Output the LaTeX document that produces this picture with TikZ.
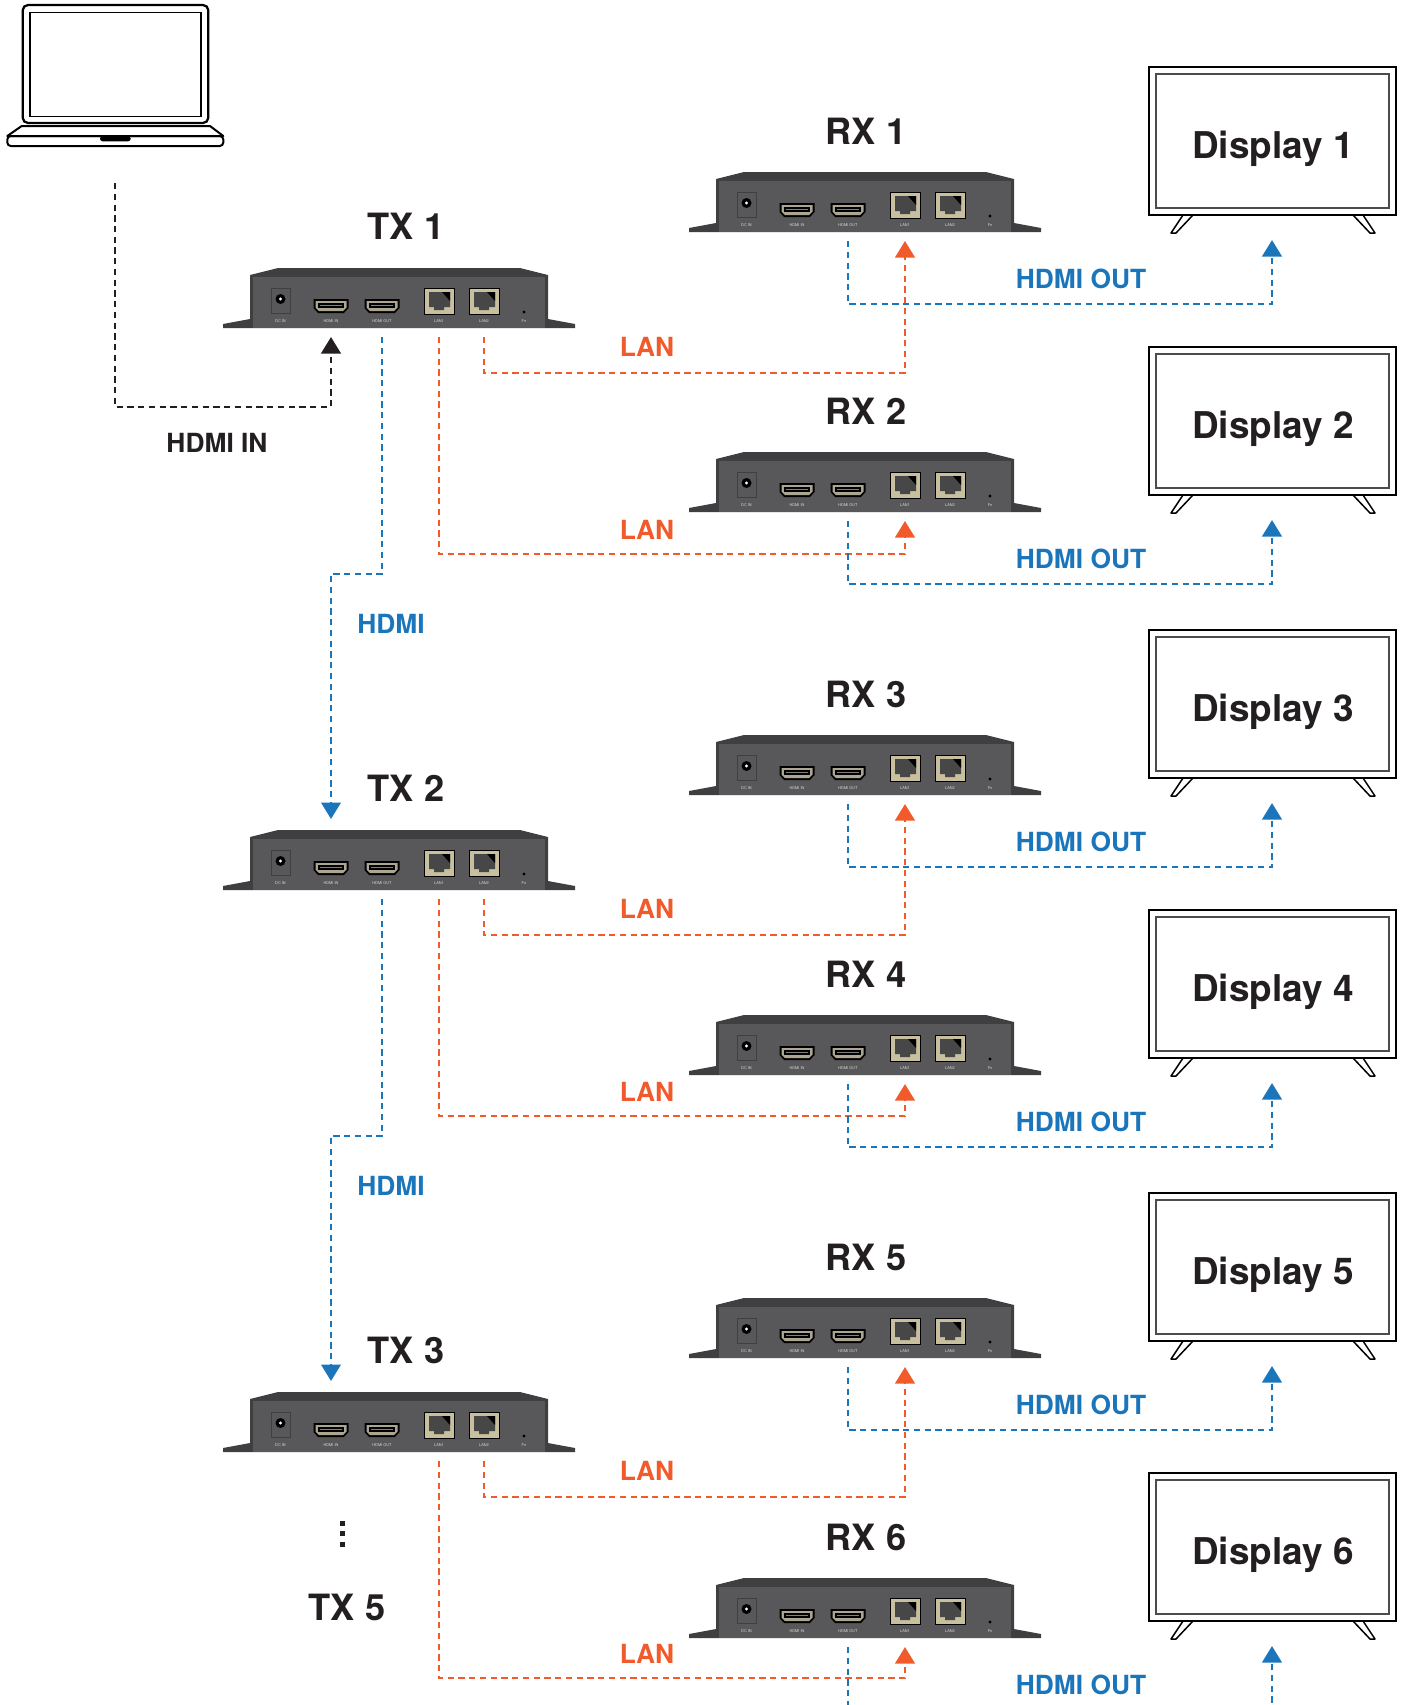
\documentclass[tikz,border=0pt]{standalone}
\usepackage{fontspec}
\setmainfont{TeX Gyre Heros}
\usetikzlibrary{arrows.meta}

\definecolor{ink}{HTML}{231F20}
\definecolor{hdmiblue}{HTML}{1B75BB}
\definecolor{lanorange}{HTML}{F15A2B}
\definecolor{casetop}{HTML}{3F3F41}
\definecolor{caseface}{HTML}{58585A}
\definecolor{rjbeige}{HTML}{C8BF9F}

\tikzset{
  cable/.style={line width=0.05cm,dash pattern=on 0.125cm off 0.09cm},
  hdmi/.style={cable,hdmiblue,-{Triangle[width=0.39cm,length=0.33cm]}},
  lan/.style={cable,lanorange,-{Triangle[width=0.39cm,length=0.33cm]}},
  src/.style={cable,ink,-{Triangle[width=0.39cm,length=0.33cm]}},
  boxname/.style={anchor=base,text=ink,font=\fontsize{20.6}{24}\selectfont\bfseries},
  screenname/.style={anchor=base,text=ink,font=\fontsize{21}{24}\selectfont\bfseries},
  wirename/.style={anchor=base,font=\fontsize{15}{18}\selectfont\bfseries},
  portname/.style={anchor=base,text=black!15,inner sep=0pt,font=\fontsize{2.2}{2.4}\selectfont},
  % extender box seen from the port side, origin = top left of housing
  extender/.pic={
    \fill[casetop] (0,7) -- (28,0) -- (270,0) -- (298,7) -- (298,60) -- (0,60) -- cycle;
    \fill[caseface] (3,9) rectangle (295,60);
    \fill[casetop] (-27,56) -- (0,51) -- (0,60) -- (-27,60) -- cycle
                   (298,51) -- (325,56) -- (325,60) -- (298,60) -- cycle;
    % power jack
    \draw[casetop,line width=0.02cm] (21,20) rectangle (40,45);
    \fill[black] (30.5,31) circle (5);
    \fill[white] (30.5,31) circle (1.6);
    % hdmi sockets
    \foreach \px in {81,132} {
      \fill[black] (\px-17.5,31) -- (\px+17.5,31) -- (\px+17.5,40) -- (\px+13,45) -- (\px-13,45) -- (\px-17.5,40) -- cycle;
      \fill[rjbeige!60!gray] (\px-15.5,33) -- (\px+15.5,33) -- (\px+15.5,39.5) -- (\px+12,43) -- (\px-12,43) -- (\px-15.5,39.5) -- cycle;
      \fill[black] (\px-13,35) rectangle (\px+13,40);
      \fill[gray] (\px-11,37) rectangle (\px+11,38);
    }
    % rj45 sockets
    \foreach \px in {189,234} {
      \fill[rjbeige,draw=black,line width=0.02cm] (\px-15,20) rectangle (\px+15,46);
      \fill[black!72] (\px-10,24) -- (\px+11,24) -- (\px+11,39) -- (\px+5,39) -- (\px+5,42) -- (\px-5,42) -- (\px-5,39) -- (\px-10,39) -- cycle;
      \fill[black] (\px+3,24) -- (\px+11,24) -- (\px+11,33) -- cycle;
    }
    \fill[black] (274,44) circle (1.6);
    \node[portname] (-dcl) at (30.5,54) {DC IN};
    \node[portname] (-hinl) at (81,54) {HDMI IN};
    \node[portname] (-houtl) at (132,54) {HDMI OUT};
    \node[portname] (-lan1l) at (189,54) {LAN1};
    \node[portname] (-lan2l) at (234,54) {LAN2};
    \node[portname] (-fnl) at (274,54) {Fn};
    \coordinate (-top) at (81,-11);
    \coordinate (-hin) at (81,69);
    \coordinate (-hout) at (132,69);
    \coordinate (-lan1) at (189,69);
    \coordinate (-lan2) at (234,69);
  }
}

\begin{document}
\begin{tikzpicture}[x={(0.02cm,0cm)},y={(0cm,-0.02cm)}]
\useasboundingbox (0,0) rectangle (1407,1705);
\clip (0,0) rectangle (1407,1705);

% laptop
\draw[line width=0.045cm,rounded corners=3] (22.7,5) rectangle (208.3,123);
\draw[line width=0.03cm] (30,12.7) rectangle (201,116.7);
\draw[line width=0.04cm,line join=round] (7.3,136) -- (21.7,126) -- (210,126) -- (223.3,136) -- cycle;
\draw[line width=0.04cm,rounded corners=2] (7.3,136) rectangle (223.3,146);
\fill[black,rounded corners=1.5] (100,136) rectangle (130.7,141.3);
\coordinate (laptop-out) at (115,183);
\node[wirename,text=ink] (hdmiin) at (217,452) {HDMI IN};

% transmitters
\foreach \t/\ty in {1/268,2/830,3/1392} {
  \pic (tx\t) at (250,\ty) {extender};
  \node[boxname] (txname\t) at (406,\ty-29) {TX \t};
  \node[wirename,text=lanorange] (lanA\t) at (647,\ty+88) {LAN};
  \node[wirename,text=lanorange] (lanB\t) at (647,\ty+271) {LAN};
}
\foreach \t/\ty in {1/268,2/830}
  \node[wirename,text=hdmiblue] (link\t) at (391,\ty+365) {HDMI};

% receivers and screens
\foreach \n/\ry in {1/172,2/452,3/735,4/1015,5/1298,6/1578} {
  \pic (rx\n) at (716,\ry) {extender};
  \node[boxname] (rxname\n) at (866,\ry-28) {RX \n};
  \node[wirename,text=hdmiblue] (out\n) at (1081,\ry+116) {HDMI OUT};
  \draw[line width=0.045cm] (1149,\ry-105) rectangle (1396,\ry+43);
  \draw[line width=0.025cm,black!70] (1156,\ry-98) rectangle (1389,\ry+36);
  \draw[line width=0.03cm,line join=round]
    (1183,\ry+43) -- (1171,\ry+61) -- (1176,\ry+61) -- (1193,\ry+43)
    (1353,\ry+43) -- (1370,\ry+61) -- (1375,\ry+61) -- (1363,\ry+43);
  \node[screenname] (d\n) at (1273,\ry-14) {Display \n};
  \coordinate (d\n-in) at (1272,\ry+68);
}

% more transmitters further down
\foreach \dy in {1523,1533,1544}
  \fill[ink] (339.5,\dy-2.5) rectangle ++(5,5);
\node[boxname] (txname5) at (347,1620) {TX 5};

% cabling
\draw[src] (laptop-out) -- ++(0,224) -| (tx1-hin);
\draw[hdmi] (tx1-hout) -- ++(0,237) -| (tx2-top);
\draw[hdmi] (tx2-hout) -- ++(0,237) -| (tx3-top);
\foreach \t/\a/\b in {1/1/2,2/3/4,3/5/6} {
  \draw[lan] (tx\t-lan2) -- ++(0,36) -| (rx\a-lan1);
  \draw[lan] (tx\t-lan1) -- ++(0,217) -| (rx\b-lan1);
}
\foreach \n in {1,...,6}
  \draw[hdmi] (rx\n-hout) -- ++(0,63) -| (d\n-in);
\end{tikzpicture}
\end{document}
